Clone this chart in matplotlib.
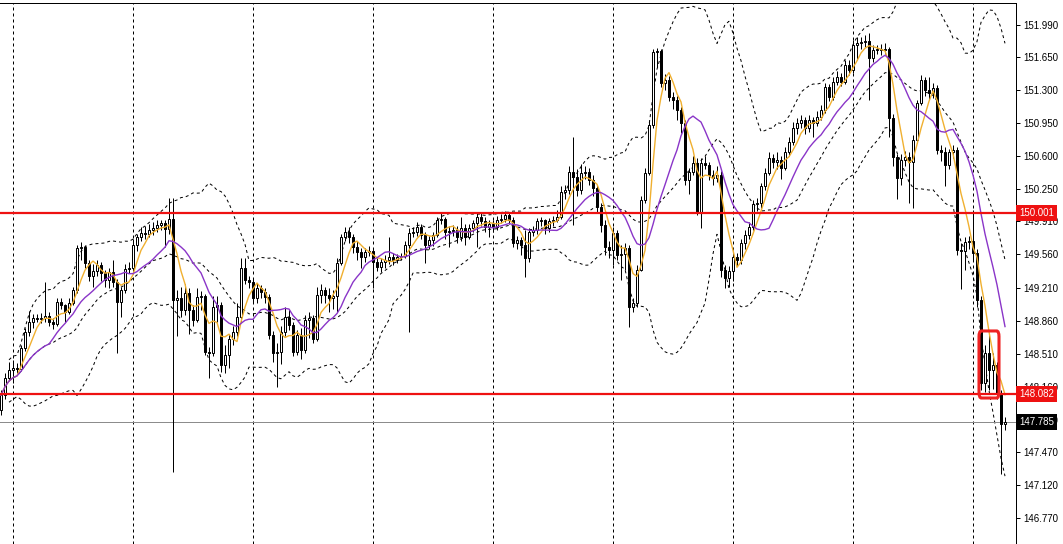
import numpy as np
import pandas as pd
import matplotlib
matplotlib.use('Agg')
import matplotlib.pyplot as plt
from matplotlib.patches import FancyBboxPatch
from matplotlib.transforms import blended_transform_factory

# candle data (one bar every 4 px), open = previous close
first_open = 147.91
closes = [
    148.07, 148.25, 148.34, 148.36, 148.35, 148.57, 148.74, 148.85, 148.89, 148.88,
    148.89, 148.91, 148.85, 148.82, 149.06, 149.02, 148.95, 149.05, 149.18, 149.63,
    149.64, 149.47, 149.33, 149.38, 149.45, 149.36, 149.29, 149.37, 149.27, 149.06,
    149.18, 149.41, 149.42, 149.66, 149.74, 149.79, 149.78, 149.82, 149.84, 149.87,
    149.89, 149.83, 149.94, 149.08, 149.10, 148.97, 149.15, 148.97, 148.87, 149.11,
    149.12, 148.53, 148.52, 149.00, 149.03, 148.39, 148.50, 148.66, 148.74, 148.90,
    149.42, 149.29, 149.27, 149.10, 149.21, 149.16, 149.11, 148.71, 148.52, 148.53,
    148.74, 148.90, 148.81, 148.53, 148.71, 148.55, 148.87, 148.89, 148.66, 149.13,
    149.18, 149.13, 149.10, 149.12, 149.47, 149.74, 149.80, 149.74, 149.64, 149.59,
    149.53, 149.59, 149.60, 149.48, 149.43, 149.48, 149.50, 149.53, 149.50, 149.53,
    149.54, 149.66, 149.79, 149.80, 149.85, 149.77, 149.66, 149.71, 149.77, 149.93,
    149.94, 149.80, 149.81, 149.82, 149.75, 149.84, 149.75, 149.84, 149.89, 149.96,
    149.91, 149.85, 149.88, 149.85, 149.93, 149.94, 149.98, 149.93, 149.68, 149.71,
    149.66, 149.52, 149.80, 149.82, 149.91, 149.92, 149.84, 149.91, 149.93, 149.96,
    150.22, 150.24, 150.43, 150.38, 150.24, 150.42, 150.43, 150.35, 150.26, 150.06,
    149.87, 149.64, 149.61, 149.79, 149.55, 149.56, 149.63, 149.00, 149.05, 149.40,
    150.14, 150.42, 150.93, 151.70, 151.71, 151.38, 151.41, 151.23, 151.20, 151.09,
    150.95, 150.35, 150.43, 150.53, 150.00, 150.53, 150.51, 150.40, 150.37, 150.40,
    149.40, 149.31, 149.38, 149.53, 149.50, 149.68, 149.77, 149.85, 150.09, 150.10,
    150.28, 150.42, 150.58, 150.54, 150.56, 150.48, 150.64, 150.75, 150.90, 150.95,
    150.98, 150.90, 150.98, 150.95, 151.02, 151.09, 151.33, 151.23, 151.39, 151.44,
    151.39, 151.57, 151.51, 151.78, 151.80, 151.81, 151.82, 151.64, 151.73, 151.74,
    151.73, 151.74, 151.01, 150.59, 150.37, 150.56, 150.59, 150.54, 150.77, 151.16,
    151.41, 151.30, 151.27, 151.32, 150.67, 150.65, 150.51, 150.64, 150.67, 149.61,
    149.60, 149.69, 149.70, 149.58, 149.08, 148.20, 148.52, 148.34, 148.39, 148.09,
    147.77, 147.785,
]
highs = [
    148.12, 148.30, 148.42, 148.44, 148.41, 148.60, 148.78, 148.96, 148.93, 148.93,
    148.94, 149.27, 148.95, 148.89, 149.10, 149.10, 149.04, 149.10, 149.22, 149.66,
    149.69, 149.66, 149.50, 149.46, 149.50, 149.48, 149.40, 149.42, 149.50, 149.30,
    149.22, 149.46, 149.48, 149.72, 149.78, 149.85, 149.86, 149.88, 149.90, 149.92,
    149.93, 149.93, 150.16, 150.16, 149.18, 149.22, 149.25, 149.20, 149.02, 149.20,
    149.17, 149.14, 148.58, 149.12, 149.12, 149.06, 148.60, 148.72, 148.80, 149.05,
    149.52, 149.52, 149.33, 149.30, 149.26, 149.24, 149.20, 149.14, 148.75, 148.62,
    148.80, 149.00, 148.98, 148.84, 148.76, 148.78, 148.92, 148.95, 148.92, 149.22,
    149.25, 149.22, 149.20, 149.18, 149.52, 149.78, 149.85, 149.85, 149.78, 149.70,
    149.63, 149.63, 149.65, 149.62, 149.52, 149.52, 149.55, 149.74, 149.58, 149.56,
    149.58, 149.70, 149.84, 149.85, 149.90, 149.88, 149.80, 149.76, 149.80, 149.96,
    150.00, 149.96, 149.86, 149.87, 149.86, 149.96, 149.88, 149.88, 149.93, 150.00,
    150.00, 149.96, 149.92, 149.92, 149.97, 149.99, 150.02, 150.01, 149.96, 149.76,
    149.74, 149.82, 149.84, 149.86, 149.95, 149.96, 149.94, 149.95, 149.97, 150.03,
    150.28, 150.30, 150.50, 150.80, 150.46, 150.52, 150.50, 150.48, 150.40, 150.30,
    150.10, 149.92, 149.70, 149.85, 149.82, 149.66, 149.68, 149.66, 149.10, 149.45,
    150.18, 150.48, 150.98, 151.74, 151.75, 151.74, 151.47, 151.45, 151.28, 151.24,
    151.12, 150.98, 150.48, 150.60, 150.58, 150.58, 150.60, 150.54, 150.45, 150.50,
    150.44, 149.45, 149.44, 149.58, 149.58, 149.72, 149.82, 149.90, 150.14, 150.16,
    150.32, 150.48, 150.64, 150.62, 150.64, 150.60, 150.70, 150.80, 150.96, 151.00,
    151.04, 151.02, 151.04, 151.02, 151.08, 151.14, 151.38, 151.36, 151.44, 151.50,
    151.48, 151.62, 151.62, 151.83, 151.86, 151.86, 151.88, 151.91, 151.78, 151.78,
    151.79, 151.80, 151.76, 151.05, 150.62, 150.62, 150.66, 150.64, 150.82, 151.20,
    151.46, 151.44, 151.44, 151.38, 151.35, 150.72, 150.70, 150.68, 150.72, 150.70,
    149.68, 149.74, 149.76, 150.03, 149.62, 149.12, 148.60, 148.72, 148.52, 148.42,
    148.12, 147.84,
]
lows = [
    147.86, 148.03, 148.22, 148.20, 148.30, 148.33, 148.54, 148.70, 148.78, 148.84,
    148.83, 148.84, 148.80, 148.77, 148.80, 148.98, 148.85, 148.93, 149.02, 149.15,
    149.50, 149.42, 149.28, 149.22, 149.33, 149.28, 149.22, 149.21, 149.22, 148.52,
    148.90, 149.15, 149.36, 149.38, 149.60, 149.70, 149.72, 149.74, 149.77, 149.80,
    149.82, 149.64, 149.78, 147.26, 148.70, 148.90, 148.92, 148.72, 148.80, 148.85,
    148.97, 148.50, 148.25, 148.48, 148.85, 148.32, 148.30, 148.36, 148.60, 148.70,
    148.85, 149.25, 149.20, 149.05, 149.05, 149.10, 149.05, 148.66, 148.42, 148.16,
    148.40, 148.70, 148.76, 148.48, 148.50, 148.45, 148.52, 148.68, 148.62, 148.64,
    149.05, 149.05, 148.95, 148.98, 148.95, 149.45, 149.70, 149.68, 149.58, 149.50,
    149.42, 149.48, 149.54, 149.21, 149.38, 149.37, 149.42, 149.46, 149.45, 149.47,
    149.50, 149.52, 148.74, 149.74, 149.76, 149.72, 149.47, 149.62, 149.65, 149.74,
    149.88, 149.72, 149.64, 149.76, 149.68, 149.70, 149.66, 149.72, 149.80, 149.64,
    149.86, 149.80, 149.74, 149.80, 149.82, 149.89, 149.90, 149.88, 149.64, 149.62,
    149.55, 149.32, 149.48, 149.76, 149.78, 149.86, 149.78, 149.80, 149.86, 149.90,
    149.94, 150.15, 150.20, 149.87, 150.18, 150.20, 150.36, 150.30, 150.18, 150.00,
    149.80, 149.55, 149.52, 149.45, 149.50, 149.29, 149.40, 148.79, 148.95, 149.00,
    149.38, 150.10, 150.40, 150.90, 151.55, 151.33, 151.30, 151.18, 151.10, 150.98,
    150.85, 150.30, 150.20, 150.40, 149.98, 149.84, 150.46, 150.35, 150.30, 150.33,
    149.32, 149.20, 149.22, 149.28, 149.44, 149.46, 149.62, 149.72, 149.82, 150.02,
    150.05, 150.24, 150.40, 150.48, 150.46, 150.36, 150.45, 150.60, 150.72, 150.84,
    150.90, 150.84, 150.86, 150.80, 150.92, 150.98, 151.06, 151.18, 151.20, 151.35,
    151.34, 151.36, 151.46, 151.48, 151.62, 151.74, 151.76, 151.20, 151.60, 151.68,
    151.67, 151.68, 150.80, 150.50, 150.15, 150.30, 150.50, 150.10, 150.05, 150.74,
    151.14, 151.24, 151.20, 151.22, 150.62, 150.55, 150.28, 150.46, 150.58, 149.55,
    149.19, 149.40, 149.62, 149.50, 149.00, 148.12, 148.10, 148.12, 148.14, 148.03,
    147.23, 147.70,
]

level_hi = 150.001
level_lo = 148.082
last_price = 147.785
price_ticks = [151.990, 151.650, 151.300, 150.950, 150.600, 150.250, 149.910, 149.560,
               149.210, 148.860, 148.510, 148.160, 147.810, 147.470, 147.120, 146.770]
grid_bars = list(range(3, 252, 30))

# highlighted zone (bar range, price range)
box_bars = (244.5, 249.5)
box_prices = (148.04, 148.75)

closes = np.array(closes)
highs = np.array(highs)
lows = np.array(lows)
opens = np.concatenate([[first_open], closes[:-1]])
n = len(closes)
x = np.arange(n)

s = pd.Series(closes)
ma_fast = s.rolling(5, min_periods=1).mean()
ma_slow = s.rolling(13, min_periods=1).mean()
bb_mid = s.rolling(20, min_periods=3).mean()
bb_std = s.rolling(20, min_periods=3).std(ddof=0)
bb_up = bb_mid + 2 * bb_std
bb_dn = bb_mid - 2 * bb_std

W, H = 1063, 544
fig = plt.figure(figsize=(W / 100, H / 100), dpi=100)
ax = fig.add_axes([0, 0, 1016 / W, 541 / H])
ax.set_xlim(-0.25, 253.75)
ax.set_ylim(146.494, 152.223)

px = 0.72  # one pixel in points

for gx in grid_bars:
    ax.axvline(gx, color='black', lw=px, ls=(0, (3, 3)), zorder=1)

ax.plot(x, bb_up, color='black', lw=px, ls=(0, (3, 3)), zorder=2)
ax.plot(x, bb_mid, color='black', lw=px, ls=(0, (3, 3)), zorder=2)
ax.plot(x, bb_dn, color='black', lw=px, ls=(0, (3, 3)), zorder=2)

ax.axhline(last_price, color='#8c8c8c', lw=px, zorder=2)

ax.vlines(x, lows, highs, color='black', lw=px, zorder=3)
up = closes >= opens
body_lo = np.minimum(opens, closes)
body_h = np.maximum(np.abs(closes - opens), 0.008)
ax.bar(x[up], body_h[up], bottom=body_lo[up], width=0.72, color='white',
       edgecolor='black', lw=px, zorder=4)
ax.bar(x[~up], body_h[~up], bottom=body_lo[~up], width=0.72, color='black',
       edgecolor='black', lw=px, zorder=4)

ax.plot(x, ma_fast, color='#f0b030', lw=1.0, zorder=5)
ax.plot(x, ma_slow, color='#8a35c8', lw=1.0, zorder=5)

ax.axhline(level_hi, color='#ee1111', lw=1.6, zorder=6)
ax.axhline(level_lo, color='#ee1111', lw=1.6, zorder=6)

box = FancyBboxPatch((box_bars[0], box_prices[0]), box_bars[1] - box_bars[0],
                     box_prices[1] - box_prices[0],
                     boxstyle='round,pad=0,rounding_size=0.6',
                     mutation_aspect=0.1, fill=False, edgecolor='#ee2222',
                     lw=2.2, zorder=7)
ax.add_patch(box)

ax.spines['left'].set_visible(False)
ax.spines['bottom'].set_visible(False)
for side in ['top', 'right']:
    ax.spines[side].set_color('black')
    ax.spines[side].set_linewidth(px)

ax.set_xticks([])
ax.yaxis.tick_right()
ax.set_yticks(price_ticks)
ax.set_yticklabels([f'{v:.3f}' for v in price_ticks])
ax.tick_params(axis='y', length=3, width=px, pad=2, labelsize=7)
for lab in ax.get_yticklabels():
    lab.set_fontfamily('Liberation Sans')

tr = blended_transform_factory(ax.transAxes, ax.transData)
for val, bg in [(level_hi, '#ee1111'), (level_lo, '#ee1111'), (last_price, 'black')]:
    ax.text(1.003, val, f'{val:.3f}', transform=tr, ha='left', va='center',
            fontsize=7, family='Liberation Sans', color='white', zorder=10,
            clip_on=False,
            bbox=dict(boxstyle='square,pad=0.3', fc=bg, ec='none'))

fig.savefig('out.png', dpi=100, facecolor='white')
